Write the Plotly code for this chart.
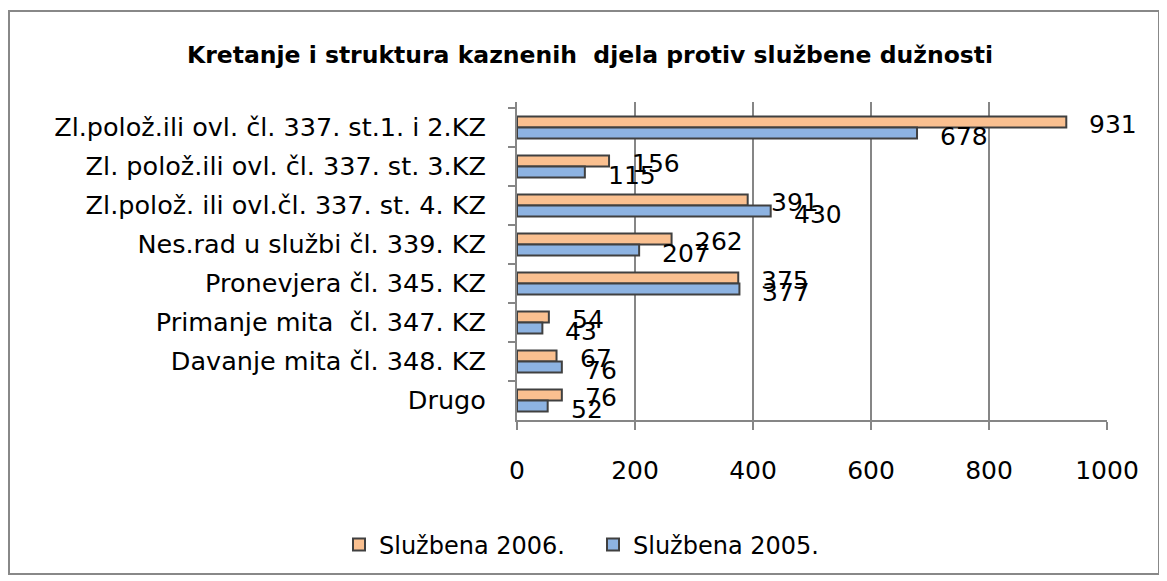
import plotly.graph_objects as go

categories = [
    "Zl.polož.ili ovl. čl. 337. st.1. i 2.KZ",
    "Zl. polož.ili ovl. čl. 337. st. 3.KZ",
    "Zl.polož. ili ovl.čl. 337. st. 4. KZ",
    "Nes.rad u službi čl. 339. KZ",
    "Pronevjera čl. 345. KZ",
    "Primanje mita  čl. 347. KZ",
    "Davanje mita čl. 348. KZ",
    "Drugo",
]
values_2006 = [931, 156, 391, 262, 375, 54, 67, 76]
values_2005 = [678, 115, 430, 207, 377, 43, 76, 52]
series_names = ["Službena 2006.", "Službena 2005."]
x_ticks = [0, 200, 400, 600, 800, 1000]

ORANGE = "#FAC090"
BLUE = "#8DB3E2"
EDGE = "#404040"
GRID = "#868686"

# the page body adds an 8px margin, so the figure is drawn 8px smaller and shifted
OFF = 8
FW, FH = 1167 - OFF, 581 - OFF
L, R, T, B = 517 - OFF, 1107 - OFF, 102 - OFF, 420 - OFF
W, H = R - L, B - T

fig = go.Figure()
fig.add_trace(go.Bar(
    y=categories, x=values_2006, orientation="h", name=series_names[0],
    marker=dict(color=ORANGE, line=dict(color=EDGE, width=2)),
))
fig.add_trace(go.Bar(
    y=categories, x=values_2005, orientation="h", name=series_names[1],
    marker=dict(color=BLUE, line=dict(color=EDGE, width=2)),
))

LBL_FONT = dict(family="DejaVu Sans", size=25, color="#000000")
for cat, v in zip(categories, values_2006):
    fig.add_annotation(x=v, y=cat, xref="x", yref="y", text=str(v), showarrow=False,
                       xanchor="left", yanchor="middle", xshift=21, yshift=3, font=LBL_FONT)
for cat, v in zip(categories, values_2005):
    fig.add_annotation(x=v, y=cat, xref="x", yref="y", text=str(v), showarrow=False,
                       xanchor="left", yanchor="middle", xshift=21, yshift=-9, font=LBL_FONT)

def px(x):
    return (x - OFF - L) / W
def py(y):
    return (B - (y - OFF)) / H
fig.add_shape(type="rect", xref="paper", yref="paper",
              x0=px(9), x1=px(1159), y0=py(11), y1=py(574),
              line=dict(color="#888888", width=2), fillcolor="rgba(0,0,0,0)", layer="below")

fig.update_layout(
    width=FW, height=FH,
    margin=dict(l=L, r=FW - R, t=T, b=FH - B),
    paper_bgcolor="white", plot_bgcolor="white",
    barmode="group", bargap=0.44, bargroupgap=0,
    title=dict(text="Kretanje i struktura kaznenih  djela protiv službene dužnosti",
               x=(590 - OFF) / FW, xref="container", xanchor="center",
               y=1 - (55 - OFF) / FH, yref="container", yanchor="middle",
               font=dict(family="DejaVu Sans", size=23.5, color="#000000", weight="bold")),
    showlegend=True,
    legend=dict(orientation="h", x=(593 - OFF) / FW, xref="container", xanchor="center",
                y=1 - (545 - OFF) / FH, yref="container", yanchor="middle",
                font=dict(family="DejaVu Sans", size=24, color="#000000"),
                itemwidth=30, traceorder="normal", entrywidth=209, entrywidthmode="pixels"),
    font=dict(family="DejaVu Sans", color="#000000"),
)
fig.update_xaxes(range=[0, 1000], tickvals=x_ticks, showgrid=True, gridcolor=GRID, gridwidth=2,
                 showline=True, linecolor=GRID, linewidth=2, ticks="outside", ticklen=8,
                 tickcolor=GRID, tickwidth=2, zeroline=False, ticklabelstandoff=19,
                 tickfont=dict(family="DejaVu Sans", size=25, color="#000000"))
fig.update_yaxes(autorange="reversed", showline=True, linecolor=GRID, linewidth=2,
                 ticks="outside", ticklen=7, tickcolor=GRID, tickwidth=2, tickson="boundaries",
                 showgrid=False, ticklabelstandoff=24,
                 tickfont=dict(family="DejaVu Sans", size=25.5, color="#000000"))

fig.write_html("out.html")
